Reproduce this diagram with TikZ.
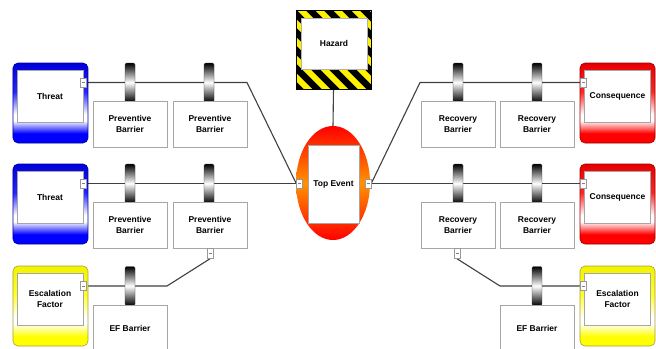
\documentclass[tikz,border=0pt]{standalone}
\usepackage{fontspec}
\setmainfont{Liberation Sans}
\usetikzlibrary{shapes.geometric,backgrounds}
\pgfdeclareverticalshading{frameblue}{100bp}{color(0bp)=(blue); color(31bp)=(blue); color(39bp)=(white); color(43bp)=(white); color(57bp)=(blue!85); color(75bp)=(blue!85!black); color(100bp)=(blue!85!black)}
\pgfdeclareverticalshading{framered}{100bp}{color(0bp)=(red); color(31bp)=(red); color(39bp)=(white); color(43bp)=(white); color(57bp)=(red!85); color(75bp)=(red!90!black); color(100bp)=(red!90!black)}
\pgfdeclareverticalshading{frameyellow}{100bp}{color(0bp)=(yellow); color(31bp)=(yellow); color(39bp)=(white); color(43bp)=(white); color(57bp)=(yellow!85); color(75bp)=(yellow!95!black); color(100bp)=(yellow!95!black)}
\begin{document}
\begin{tikzpicture}[x=1bp,y=-1bp,
  every node/.style={inner sep=0pt, font=\fontsize{8.5}{10.5}\selectfont\bfseries, align=center},
  frame/.style={rounded corners=5bp, minimum width=75bp, minimum height=80bp, draw=#1!60!black, line width=0.6bp, shading=frame#1},
  inbox/.style={draw=gray!70, fill=white, line width=0.5bp, minimum width=66bp, minimum height=52bp},
  post/.style={rounded corners=1.5bp, minimum width=10bp, minimum height=39bp, top color=black, bottom color=black, middle color=white, draw=black!80, line width=0.4bp},
  barbox/.style={draw=gray!70, fill=white, line width=0.6bp, minimum width=74bp, minimum height=46bp},
  conn/.style={draw=gray!80, fill=white, line width=0.5bp, minimum width=6bp, minimum height=9bp},
  link/.style={draw=black!75, line width=1.1bp}
]
\useasboundingbox (0,0) rectangle (656,348);
\begin{scope}[on background layer]
  \fill[white] (0,0) rectangle (656,348);
\end{scope}

% Threats / escalation (left)
\node[frame=blue] (T1) at (50.5,103) {};
\node[inbox] (T1i) at (50,96) {Threat};
\node[conn] (T1c) at (83.5,82.5) {};
\node[frame=blue] (T2) at (50.5,204) {};
\node[inbox] (T2i) at (50,197) {Threat};
\node[conn] (T2c) at (83.5,183.5) {};
\node[frame=yellow] (E1) at (50.5,306) {};
\node[inbox] (E1i) at (50,299) {Escalation\\Factor};
\node[conn] (E1c) at (83.5,286) {};

% Consequences / escalation (right)
\node[frame=red] (C1) at (617.5,103) {};
\node[inbox] (C1i) at (617.5,96) {Consequence};
\node[conn] (C1c) at (583,82.5) {};
\node[frame=red] (C2) at (617.5,204) {};
\node[inbox] (C2i) at (617.5,197) {Consequence};
\node[conn] (C2c) at (583,183.5) {};
\node[frame=yellow] (E2) at (617.5,306) {};
\node[inbox] (E2i) at (617.5,299) {Escalation\\Factor};
\node[conn] (E2c) at (583,286) {};

% Hazard
\begin{scope}
  \clip (296,10) rectangle (371,89);
  \fill[yellow] (296,10) rectangle (371,89);
  \foreach \i in {-96,-78,...,380} \draw[line width=6.5bp] (\i,0) -- ++(100,100);
\end{scope}
\node[draw=black, line width=0.8bp, minimum width=75bp, minimum height=79bp] (HZ) at (333.5,49.5) {};
\node[draw=gray!60, fill=white, minimum width=66bp, minimum height=51bp] (HZi) at (334,43.5) {Hazard};

% Top event
\node[ellipse, minimum width=74bp, minimum height=114bp, top color=red, bottom color=red, middle color=orange!85!yellow] (TE) at (333,183) {};
\node[draw=gray!70, fill=white, line width=0.5bp, minimum width=51bp, minimum height=78bp] (TEi) at (333.5,184) {Top Event};
\node[conn] (TEl) at (299.5,183.5) {};
\node[conn] (TEr) at (368,183.5) {};

% Barriers row 1
\node[post] (P11) at (130,82.5) {};
\node[post] (P12) at (209,82.5) {};
\node[post] (P13) at (458,82.5) {};
\node[post] (P14) at (537,82.5) {};
\node[barbox] (B11) at (130,124) {Preventive\\Barrier};
\node[barbox] (B12) at (210,124) {Preventive\\Barrier};
\node[barbox] (B13) at (458,124) {Recovery\\Barrier};
\node[barbox] (B14) at (537,124) {Recovery\\Barrier};

% Barriers row 2
\node[post] (P21) at (130,183.5) {};
\node[post] (P22) at (209,183.5) {};
\node[post] (P23) at (458,183.5) {};
\node[post] (P24) at (537,183.5) {};
\node[barbox] (B21) at (130,225) {Preventive\\Barrier};
\node[barbox] (B22) at (210,225) {Preventive\\Barrier};
\node[barbox] (B23) at (458,225) {Recovery\\Barrier};
\node[barbox] (B24) at (537,225) {Recovery\\Barrier};
\node[conn, minimum height=10bp] (BC1) at (210,253.5) {};
\node[conn, minimum height=10bp] (BC2) at (457,253.5) {};

% EF barriers
\node[post] (P31) at (130,286) {};
\node[post] (P32) at (537,286) {};
\node[barbox] (EF1) at (130,328) {EF Barrier};
\node[barbox] (EF2) at (537,328) {EF Barrier};

% minus marks in connectors
\foreach \c in {T1c,T2c,E1c,C1c,C2c,E2c,TEl,TEr,BC1,BC2}
  \draw[gray, line width=0.4bp] ([xshift=-1.5bp]\c.center) -- ([xshift=1.5bp]\c.center);

% bends
\coordinate (k1) at (247,82.5);
\coordinate (k2) at (420,82.5);
\coordinate (k3) at (167,286);
\coordinate (k4) at (500,286);

\begin{scope}[on background layer]
  \draw[link] (T1c.east) -- (k1) -- (TEl.west);
  \draw[link] (T2c.east) -- (TEl.west);
  \draw[link] (TEr.east) -- (k2) -- (C1c.west);
  \draw[link] (TEr.east) -- (C2c.west);
  \draw[link] (HZ.south) -- (TE.north);
  \draw[link] (BC1.south) -- (k3) -- (E1c.east);
  \draw[link] (BC2.south) -- (k4) -- (E2c.west);
\end{scope}
\end{tikzpicture}
\end{document}
